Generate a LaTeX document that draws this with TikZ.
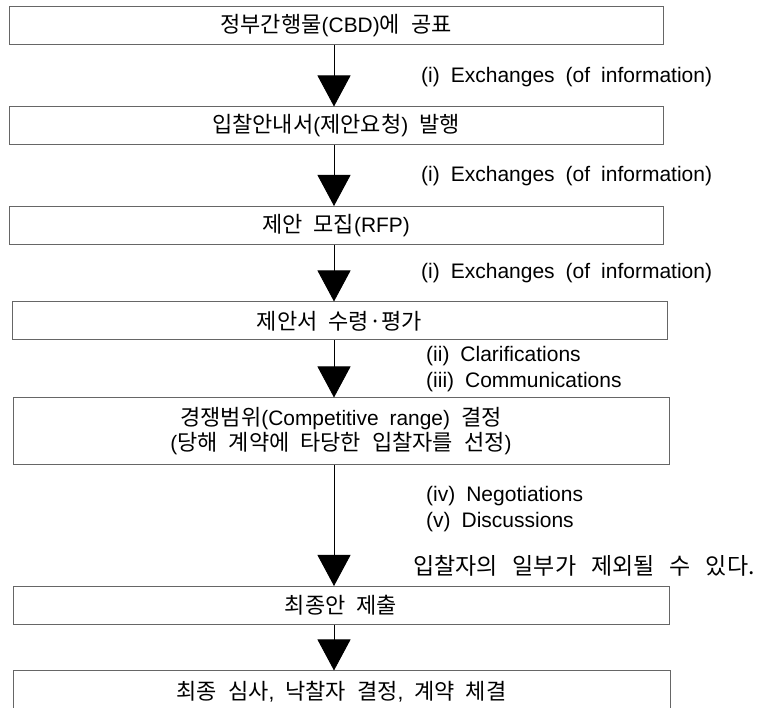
\documentclass[tikz,border=0pt]{standalone}
\usepackage{fontspec}
\setmainfont{Noto Sans CJK KR}
\newfontfamily\lat[Scale=0.95]{Liberation Sans}
\newfontfamily\latl{Liberation Sans}
\usetikzlibrary{arrows.meta}
\newcommand\boxfont{\fontsize{22}{25}\selectfont\spaceskip=11pt plus 1pt\relax}
\newcommand\labfont{\latl\fontsize{21}{26}\selectfont\spaceskip=11pt plus 1pt\relax}
\newcommand\krlabfont{\fontsize{23}{26}\selectfont\spaceskip=15pt plus 1pt\relax}
\begin{document}
\begin{tikzpicture}[x=1pt,y=-1pt,
  box/.style={draw=black!60, line width=1pt, minimum height=38pt, inner sep=0pt,
    align=center, font=\boxfont},
  flow/.style={draw=black, line width=0.9pt, -{Triangle[width=33pt,length=31pt]}},
  lab/.style={anchor=west, inner sep=0pt, font=\labfont, align=left},
  krlab/.style={anchor=west, inner sep=0pt, font=\krlabfont}]
\clip (0,0) rectangle (764,708);
\useasboundingbox (0,0) rectangle (764,708);
\node[box, minimum width=654pt] (b1) at (336,25.5) {정부간행물{\lat(CBD)}에 공표};
\node[box, minimum width=654pt] (b2) at (336,126) {입찰안내서{\lat(}제안요청{\lat)} 발행};
\node[box, minimum width=654pt] (b3) at (336,225.5) {제안 모집{\lat(RFP)}};
\node[box, minimum width=655pt] (b4) at (339.5,321) {제안서 수령·평가};
\node[box, minimum width=656pt, minimum height=67pt] (b5) at (341,431.5) {경쟁범위{\lat(Competitive range)} 결정\\{\lat(}당해 계약에 타당한 입찰자를 선정{\lat)}};
\node[box, minimum width=656pt] (b6) at (341,605.5) {최종안 제출};
\node[box, minimum width=657pt, minimum height=42pt] (b7) at (341.5,692) {최종 심사{\lat,} 낙찰자 결정{\lat,} 계약 체결};
\coordinate (ax) at (334,0);
\draw[flow] (b1.south -| ax) -- (b2.north -| ax);
\draw[flow] (b2.south -| ax) -- (b3.north -| ax);
\draw[flow] (b3.south -| ax) -- (b4.north -| ax);
\draw[flow] (b4.south -| ax) -- (b5.north -| ax);
\draw[flow] (b5.south -| ax) -- (b6.north -| ax);
\draw[flow] (b6.south -| ax) -- (b7.north -| ax);
\node[lab] (l1) at (421,77) {(i) Exchanges (of information)};
\node[lab] (l2) at (421,176) {(i) Exchanges (of information)};
\node[lab] (l3) at (421,273) {(i) Exchanges (of information)};
\node[lab] (l4) at (426,369) {(ii) Clarifications\\(iii) Communications};
\node[lab] (l5) at (426,509) {(iv) Negotiations\\(v) Discussions};
\node[krlab] (l6) at (413,566) {입찰자의 일부가 제외될 수 있다.};
\end{tikzpicture}
\end{document}
